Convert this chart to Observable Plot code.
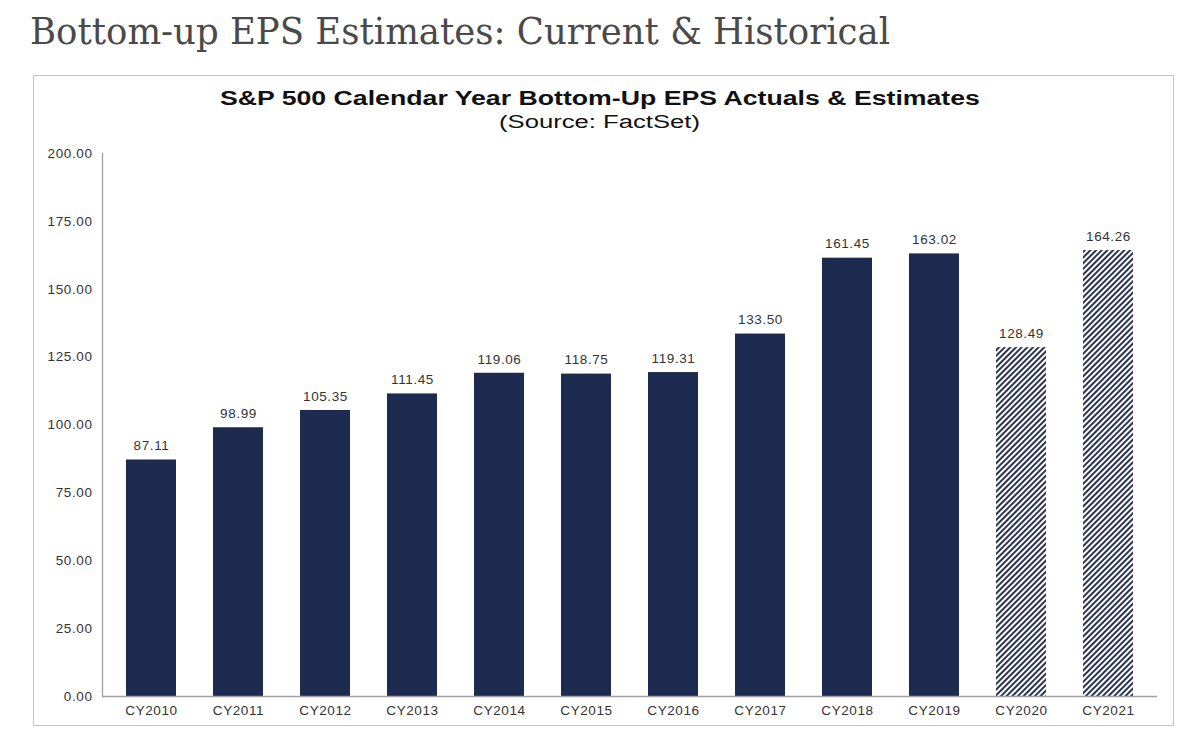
<!DOCTYPE html>
<html>
<head>
<meta charset="utf-8">
<script src="https://cdn.jsdelivr.net/npm/d3@7"></script>
<script src="https://cdn.jsdelivr.net/npm/@observablehq/plot@0.6"></script>
<style>
  html, body { margin: 0; padding: 0; background: #fff; }
  body { width: 1200px; height: 738px; position: relative; overflow: hidden; }
  #title { position: absolute; left: 30px; top: 9px; font-family: "DejaVu Serif", serif; font-size: 38px; color: #4a4a4a; white-space: nowrap; transform-origin: left center; }
  #box { position: absolute; left: 33px; top: 75px; width: 1139px; height: 649px; border: 1.5px solid #c4c4c4; }
  .ct { position: absolute; left: 0; width: 1200px; text-align: center; font-family: Arial, "Liberation Sans", sans-serif; color: #111; white-space: nowrap; }
  .ct span { display: inline-block; transform-origin: center center; }
  #ct { top: 87px; font-weight: bold; font-size: 20px; }
  #cs { top: 112px; font-size: 18px; }
  #chart { position: absolute; left: 0; top: 140px; }
</style>
</head>
<body>
<div id="title">Bottom-up EPS Estimates: Current &amp; Historical</div>
<div id="box"></div>
<div class="ct" id="ct"><span>S&amp;P 500 Calendar Year Bottom-Up EPS Actuals &amp; Estimates</span></div>
<div class="ct" id="cs"><span>(Source: FactSet)</span></div>
<div id="chart"></div>
<script>
const years = ["CY2010","CY2011","CY2012","CY2013","CY2014","CY2015","CY2016","CY2017","CY2018","CY2019","CY2020","CY2021"];
const eps = [87.11, 98.99, 105.35, 111.45, 119.06, 118.75, 119.31, 133.50, 161.45, 163.02, 128.49, 164.26];
const kind = ["Actual","Actual","Actual","Actual","Actual","Actual","Actual","Actual","Actual","Actual","Estimate","Estimate"];
const yTicks = [0, 25, 50, 75, 100, 125, 150, 175, 200];

const data = years.map((y, i) => ({year: y, eps: eps[i], kind: kind[i]}));

// stretch the titles to the reference's widths
function fit(sel, target) {
  const el = document.querySelector(sel);
  const w = el.getBoundingClientRect().width;
  el.style.transform = `scaleX(${target / w})`;
}
fit("#ct span", 760);
fit("#cs span", 201);
fit("#title", 860);

const plot = Plot.plot({
  width: 1200,
  height: 590,
  marginLeft: 102,
  marginRight: 43,
  marginTop: 13,
  marginBottom: 34,
  style: {fontFamily: "Arial, 'Liberation Sans', sans-serif", fontSize: "13.5px", color: "#333", background: "transparent", letterSpacing: "0.6px"},
  x: {domain: years, paddingInner: 0.43, paddingOuter: 0.228, label: null},
  y: {domain: [0, 200], label: null},
  marks: [
    Plot.barY(data, {x: "year", y: "eps", fill: d => d.kind === "Actual" ? "#1d2b50" : "url(#hatch)"}),
    Plot.text(data, {x: "year", y: "eps", text: d => d.eps.toFixed(2), dy: -14, fill: "#333", fontSize: 13.5}),
    Plot.ruleY([0], {stroke: "#a0a0a0", strokeWidth: 1.3}),
    Plot.frame({anchor: "left", stroke: "#a0a0a0", strokeWidth: 1.3}),
    Plot.axisY({ticks: yTicks, tickFormat: d => d.toFixed(2), tickSize: 0, tickPadding: 10, fill: "#333", fontSize: 13.5}),
    Plot.axisX({tickSize: 0, tickPadding: 9, fill: "#333", fontSize: 13.5})
  ]
});

const svg = d3.select(plot);
const defs = svg.insert("defs", ":first-child");
const pat = defs.append("pattern")
  .attr("id", "hatch")
  .attr("patternUnits", "userSpaceOnUse")
  .attr("width", 4).attr("height", 4)
  .attr("patternTransform", "rotate(45)");
pat.append("rect").attr("width", 4).attr("height", 4).attr("fill", "#fff");
pat.append("rect").attr("x", 0).attr("width", 2).attr("height", 4).attr("fill", "#2a3350");

document.getElementById("chart").appendChild(plot);
</script>
</body>
</html>
